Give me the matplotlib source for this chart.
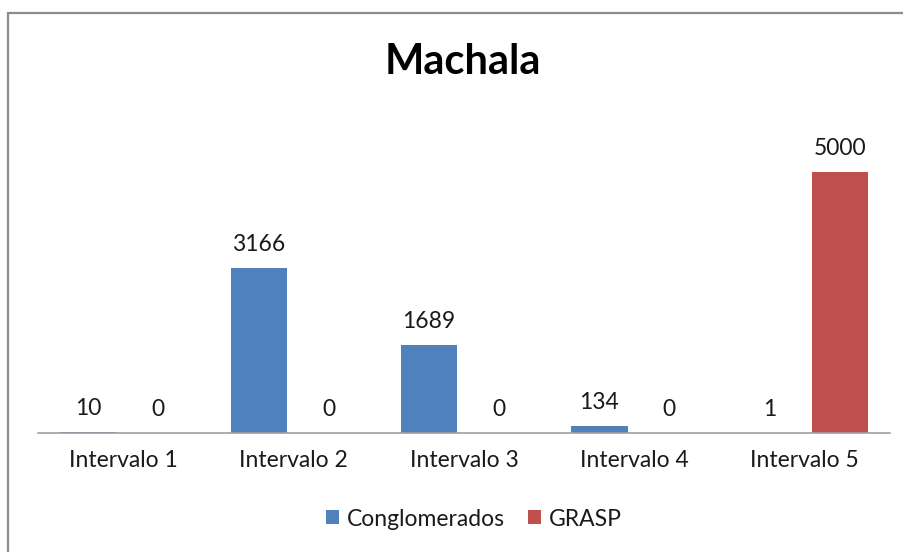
import matplotlib
matplotlib.use("Agg")
import matplotlib.pyplot as plt
import numpy as np
from matplotlib.patches import Rectangle

plt.rcParams["font.family"] = ["Lato", "DejaVu Sans"]

categories = ["Intervalo 1", "Intervalo 2", "Intervalo 3", "Intervalo 4", "Intervalo 5"]
conglomerados = [10, 3166, 1689, 134, 1]
grasp = [0, 0, 0, 0, 5000]

BLUE = "#4F81BD"
RED = "#C0504D"
TEXT = "#1a1a1a"

fig = plt.figure(figsize=(9.04, 5.52), dpi=100)
ax = fig.add_axes([38 / 904, 119 / 552, 852 / 904, 313 / 552])

x = np.arange(len(categories))
width = 0.33
offset = 0.205
bars1 = ax.bar(x - offset, conglomerados, width, color=BLUE, label="Conglomerados")
bars2 = ax.bar(x + offset, grasp, width, color=RED, label="GRASP")

# value labels above every bar
for bars, vals in ((bars1, conglomerados), (bars2, grasp)):
    for bar, v in zip(bars, vals):
        ax.annotate(f"{v}", (bar.get_x() + bar.get_width() / 2, bar.get_height()),
                    xytext=(0, 17), textcoords="offset points",
                    ha="center", va="center", fontsize=16.5, color=TEXT)

ax.set_xlim(-0.5, len(categories) - 0.5)
ax.set_ylim(0, 6000)
ax.set_xticks(x)
ax.set_xticklabels(categories, fontsize=16.5, color=TEXT)
ax.tick_params(axis="x", length=0, pad=12)
ax.set_yticks([])
for side in ("top", "right", "left"):
    ax.spines[side].set_visible(False)
ax.spines["bottom"].set_color("#a0a0a0")
ax.spines["bottom"].set_linewidth(1.2)

fig.text(463 / 904, 1 - 62 / 552, "Machala", ha="center", va="center",
         fontsize=30, fontweight="bold")

fig.legend(handles=[bars1, bars2], loc="center", ncol=2,
           bbox_to_anchor=(474 / 904, 1 - 519 / 552), frameon=False,
           fontsize=16.5, handlelength=0.55, handleheight=0.55,
           handletextpad=0.35, columnspacing=1.0, labelcolor=TEXT)

# chart frame
fig.patches.append(Rectangle((8 / 904, -0.05), 1.1, 1 - 13 / 552 + 0.05,
                             transform=fig.transFigure, fill=False,
                             edgecolor="#8c8c8c", linewidth=1.6))

fig.savefig("out.png", dpi=100)
